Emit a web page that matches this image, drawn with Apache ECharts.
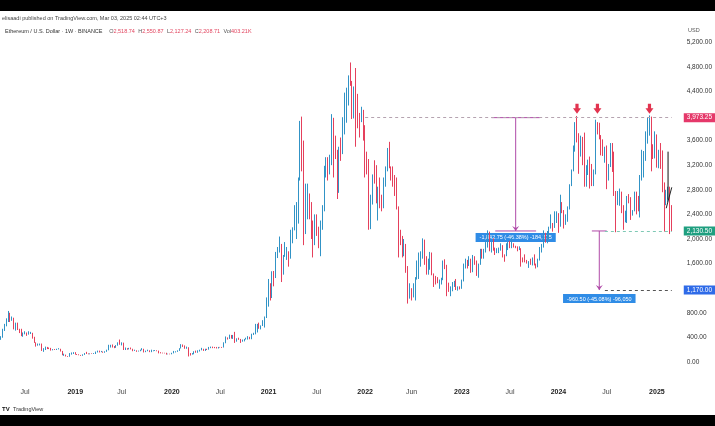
<!DOCTYPE html>
<html><head><meta charset="utf-8">
<script src="https://cdn.jsdelivr.net/npm/echarts@6/dist/echarts.min.js"></script>
<style>html,body{margin:0;padding:0;background:#fff;}#c{width:715px;height:426px;}</style>
</head><body><div id="c"></div>
<script>
// Weekly ETH candles, rows are [open, high, low, close]; first week starts 2018-04-02
const firstWeek = '2018-04-02';
const y2018 = [
[380,420,360,400],[400,540,395,530],[530,620,505,605],[605,710,580,670],[670,830,650,790],
[790,800,650,680],[680,740,670,710],[710,720,530,580],[580,640,510,615],
[615,640,520,530],[530,540,470,500],[500,540,420,455],[455,480,410,455],
[455,500,450,470],[470,480,425,450],[450,500,445,465],[465,490,455,470],[470,475,380,400],
[400,410,310,320],[320,320,250,280],[280,300,265,280],[280,300,270,285],
[285,300,180,195],[195,225,165,220],[220,250,195,245],[245,245,210,230],
[230,235,210,225],[225,230,185,195],[195,210,190,205],[205,210,195,200],[200,215,195,210],
[210,225,205,212],[212,215,170,175],[175,180,110,115],[115,135,100,115],
[115,120,90,90],[90,95,82,85],[85,145,85,130],[130,155,120,135],[135,160,130,155]];
const y2019 = [
[155,160,120,125],[125,130,115,118],[118,125,110,115],[115,115,100,105],
[105,125,100,120],[120,145,115,140],[140,165,130,135],[135,140,125,130],
[130,140,125,138],[138,140,130,135],[135,145,130,135],[135,170,130,165],
[165,185,155,180],[180,185,155,165],[165,180,160,165],[165,170,150,155],[155,175,150,170],
[170,200,165,195],[195,280,190,240],[240,280,235,270],[270,285,235,250],
[250,260,225,235],[235,275,230,270],[270,320,265,310],[310,365,280,290],
[290,320,270,290],[290,315,195,215],[215,235,195,215],[215,225,200,205],[205,230,205,225],
[225,235,205,210],[210,215,175,185],[185,200,180,185],[185,190,165,170],
[170,185,170,180],[180,200,175,195],[195,225,190,210],[210,215,155,165],[165,185,160,180],
[180,200,175,185],[185,190,160,165],[165,200,160,180],[180,190,175,185],
[185,195,180,185],[185,190,175,180],[180,185,140,150],[150,160,140,148],
[148,152,140,145],[145,150,140,142],[142,150,120,128],[128,135,125,130],[130,135,125,128]];
const y2020 = [
[128,150,125,145],[145,180,140,165],[165,175,155,170],[170,190,165,185],
[185,225,180,225],[225,290,220,270],[270,285,245,255],[255,270,215,220],
[220,250,215,235],[235,240,90,125],[125,145,105,122],[122,145,120,130],[130,175,125,170],
[170,185,150,160],[160,190,150,180],[180,200,170,195],[195,230,190,210],
[210,215,180,185],[185,215,180,210],[210,215,195,205],[205,245,200,240],
[240,250,225,245],[245,250,225,235],[235,245,225,228],[228,245,220,225],[225,245,220,240],
[240,245,235,238],[238,245,230,235],[235,320,235,310],[310,415,305,385],
[385,400,365,380],[380,445,375,430],[430,440,380,390],[390,440,375,430],[430,490,310,350],
[350,385,330,380],[380,395,360,370],[370,375,310,355],[355,365,330,355],
[355,375,335,370],[370,395,365,370],[370,420,365,405],[405,410,370,400],
[400,460,370,455],[455,475,440,460],[460,620,450,550],[550,620,480,585],[585,640,540,560],
[560,595,530,590],[590,680,585,640],[640,740,560,735],[735,1050,715,1040]];
const y2021 = [
[1040,1350,900,1250],[1250,1280,1000,1230],[1230,1475,1040,1390],[1390,1480,1230,1370],
[1370,1790,1365,1770],[1770,1870,1690,1780],[1780,2040,1780,1900],[1900,1920,1300,1420],
[1420,1740,1420,1720],[1720,1950,1710,1800],[1800,1870,1660,1800],[1800,1800,1550,1690],[1690,2150,1680,2080],
[2080,2190,1930,2140],[2140,2550,2140,2250],[2250,2600,2000,2300],[2300,3000,2250,2950],
[2950,3920,2950,3900],[3900,3990,3100,3580],[3580,3600,1900,2100],[2100,2900,2080,2390],[2390,2900,2320,2700],
[2700,2740,2320,2500],[2500,2600,2000,2250],[2250,2300,1700,1980],[1980,2400,1900,2320],
[2320,2400,2050,2140],[2140,2200,1850,1900],[1900,2300,1720,2200],[2200,2550,2150,2500],
[2500,3190,2450,3150],[3150,3330,3000,3300],[3300,3330,2950,3220],[3220,3370,3050,3220],[3220,4030,3200,3950],
[3950,3970,3000,3400],[3400,3680,3300,3330],[3330,3450,2650,2920],[2920,3500,2750,3420],
[3420,3650,3270,3410],[3410,3980,3380,3850],[3850,4380,3700,4170],[4170,4460,3890,4280],
[4280,4660,4170,4610],[4610,4870,4490,4570],[4570,4570,3950,4280],[4280,4480,3960,4300],[4300,4780,3500,4200],
[4200,4360,3800,3960],[3960,4050,3650,3950],[3950,4150,3900,4050],[4050,4100,3600,3770]];
const y2022 = [
[3770,3850,3000,3250],[3250,3420,3050,3200],[3200,3300,2150,2400],[2400,2720,2160,2600],[2600,3050,2560,3020],
[3020,3280,2900,2920],[2920,3200,2580,2580],[2580,2850,2300,2620],[2620,3000,2500,2570],
[2570,2720,2450,2560],[2560,3000,2500,2860],[2860,3180,2850,3140],[3140,3480,3100,3450],
[3450,3580,3150,3180],[3180,3180,2950,3050],[3050,3180,2850,2920],[2920,3040,2700,2830],
[2830,3000,2480,2520],[2520,2530,1700,2050],[2050,2150,1900,1970],[1970,2050,1700,1800],[1800,2000,1720,1800],
[1800,1920,1450,1450],[1450,1560,950,1130],[1130,1280,1030,1140],[1140,1200,1000,1070],
[1070,1280,1050,1170],[1170,1380,1000,1340],[1340,1650,1340,1550],[1550,1780,1350,1680],
[1680,1800,1550,1700],[1700,2010,1680,1980],[1980,1990,1580,1620],[1620,1720,1420,1550],[1550,1680,1420,1580],
[1580,1790,1500,1720],[1720,1780,1410,1440],[1440,1440,1220,1320],[1320,1400,1260,1310],
[1310,1380,1280,1300],[1300,1340,1190,1310],[1310,1370,1260,1360],[1360,1650,1330,1590],[1590,1670,1510,1570],
[1570,1580,1070,1220],[1220,1290,1140,1190],[1190,1230,1070,1200],[1200,1300,1150,1260],
[1260,1320,1220,1280],[1280,1350,1170,1180],[1180,1230,1160,1210],[1210,1230,1180,1200]];
const y2023 = [
[1200,1340,1190,1320],[1320,1600,1310,1550],[1550,1680,1520,1630],[1630,1660,1520,1570],[1570,1720,1560,1630],
[1630,1680,1450,1510],[1510,1740,1460,1710],[1710,1720,1580,1640],[1640,1650,1400,1430],
[1430,1600,1370,1590],[1590,1840,1580,1780],[1780,1840,1680,1750],[1750,1840,1680,1810],
[1810,1950,1780,1860],[1860,2140,1860,2100],[2100,2120,1800,1870],[1870,1950,1780,1870],
[1870,2010,1810,1850],[1850,1860,1740,1800],[1800,1850,1770,1820],[1820,1860,1770,1830],[1830,1930,1810,1890],
[1890,1900,1700,1740],[1740,1750,1630,1730],[1730,1930,1720,1880],[1880,1950,1820,1930],
[1930,1970,1850,1880],[1880,2020,1850,1930],[1930,1930,1860,1890],[1890,1890,1850,1860],[1860,1880,1800,1850],
[1850,1880,1820,1850],[1850,1850,1550,1670],[1670,1700,1620,1650],[1650,1750,1620,1630],
[1630,1660,1600,1620],[1620,1640,1530,1620],[1620,1680,1580,1590],[1590,1700,1570,1680],
[1680,1750,1570,1580],[1580,1600,1520,1560],[1560,1680,1540,1660],[1660,1870,1650,1780],[1780,1920,1780,1880],
[1880,2140,1860,2040],[2040,2100,1940,2010],[2010,2130,1930,2070],[2070,2200,2000,2190],
[2190,2400,2170,2230],[2230,2260,2120,2200],[2200,2450,2180,2270],[2270,2450,2260,2350]];
const y2024 = [
[2350,2420,2100,2220],[2220,2720,2200,2470],[2470,2600,2420,2450],[2450,2470,2170,2260],[2260,2400,2230,2290],
[2290,2530,2280,2500],[2500,2890,2480,2880],[2880,3130,2860,3110],[3110,3520,3100,3490],
[3490,3900,3420,3880],[3880,4000,3570,3640],[3640,3720,3060,3450],[3450,3680,3340,3650],
[3650,3660,3200,3450],[3450,3730,2850,3150],[3150,3200,2850,3150],[3150,3290,3040,3260],[3260,3340,2820,3100],
[3100,3220,2860,2930],[2930,3130,2860,3070],[3070,3940,3050,3830],[3830,3900,3700,3780],
[3780,3890,3620,3680],[3680,3690,3360,3570],[3570,3620,3350,3420],[3420,3500,3240,3430],
[3430,3520,2810,3000],[3000,3220,2950,3200],[3200,3560,3170,3470],[3470,3560,3090,3250],[3250,3420,2700,2750],
[2750,2780,2110,2610],[2610,2780,2550,2610],[2610,2820,2540,2750],[2750,2770,2420,2530],
[2530,2550,2150,2300],[2300,2460,2270,2420],[2420,2700,2260,2660],[2660,2730,2580,2600],[2600,2680,2310,2430],
[2430,2470,2380,2460],[2460,2770,2450,2730],[2730,2770,2400,2500],[2500,2700,2450,2450],
[2450,3040,2350,3020],[3020,3450,2950,3070],[3070,3430,3000,3350],[3350,3750,3270,3700],
[3700,3980,3550,3950],[3950,4010,3680,3990],[3990,3990,3100,3420],[3420,3540,3300,3360],[3360,3750,3310,3630]];
const y2025 = [
[3630,3700,3160,3280],[3280,3450,3150,3300],[3300,3560,3140,3290],[3290,3440,2760,2870],
[2870,2920,2120,2630],[2630,2800,2550,2690],[2690,2850,2600,2810],[2810,2850,2080,2520],
[2518.74,2550.87,2127.24,2208.71]];

// horizontal levels and measurement labels (drawn tools)
const resistance = 3973.25;
const support1 = 2130.50;
const support2 = 1170.00;
const measure1Text = '-1,842.75 (-46.38%) -184,275';
const measure2Text = '-960.50 (-45.08%) -96,050';
const peakDates = ['2024-03-11', '2024-05-27', '2024-12-09'];
const tickLabels = [
  ['2018-07-02','Jul'],['2019-01-07','2019'],['2019-07-01','Jul'],['2020-01-06','2020'],
  ['2020-07-06','Jul'],['2021-01-04','2021'],['2021-07-05','Jul'],['2022-01-03','2022'],
  ['2022-06-27','Jun'],['2023-01-02','2023'],['2023-07-03','Jul'],['2024-01-01','2024'],
  ['2024-07-01','Jul'],['2025-01-06','2025']];

const rows = [].concat(y2018, y2019, y2020, y2021, y2022, y2023, y2024, y2025);
const t0 = Date.parse(firstWeek + 'T00:00:00Z');
const dates = rows.map((r, i) => new Date(t0 + i * 7 * 86400000).toISOString().slice(0, 10));
const candles = rows.map(r => [r[0], r[3], r[2], r[1]]);
const tickMap = {}; tickLabels.forEach(t => tickMap[t[0]] = t[1]);
const last = dates[dates.length - 1];

const FONT = '"Liberation Sans", Arial, sans-serif';
const UP = '#3193c6', DOWN = '#e5405c';
const PURPLE = '#b04aa8', MBLUE = '#2f8ce6';
const fmt = v => Number(v).toLocaleString('en-US', {minimumFractionDigits: 2, maximumFractionDigits: 2});

const chart = echarts.init(document.getElementById('c'), null, {renderer: 'canvas'});

function hline(a, b, style, label) {
  const s = {coord: a, lineStyle: style};
  if (label) s.label = label;
  return [s, {coord: b}];
}
const axisLabelStyle = (bg, v) => ({show: true, position: 'end', distance: 12, formatter: fmt(v),
  backgroundColor: bg, color: '#fff', padding: [1, 3], fontSize: 6.5, fontFamily: FONT});

// drawing segments as plain line series
function segSeries(points, color) {
  return {type: 'line', data: points, symbol: 'none', silent: true, animation: false, z: 4,
    lineStyle: {color: color, width: 1}, clip: false};
}
function arrowHead(point, color) {
  return {type: 'scatter', data: [point], silent: true, z: 5, animation: false,
    symbol: 'path://M0,0 L5,6 L10,0 L5,2.5 Z', symbolSize: [7, 5], symbolOffset: [0, -2.5],
    itemStyle: {color: color, opacity: 1}};
}
function boxLabel(point, text, dist) {
  return {type: 'scatter', data: [point], silent: true, z: 1, animation: false, symbolSize: 0,
    itemStyle: {opacity: 1},
    label: {show: true, position: 'bottom', distance: dist, formatter: text, backgroundColor: MBLUE,
      color: '#fff', padding: [2, 4, 1, 4], fontSize: 5.5, fontFamily: FONT}};
}

chart.setOption({
  animation: false,
  backgroundColor: '#fff',
  grid: {left: 0, right: 42, top: 30, bottom: 64},
  xAxis: {
    type: 'category', data: dates, boundaryGap: true,
    axisLine: {show: false}, axisTick: {show: false}, splitLine: {show: false},
    axisLabel: {
      interval: (i, v) => tickMap[v] !== undefined,
      formatter: v => { const t = tickMap[v] || ''; return /^\d{4}$/.test(t) ? '{y|' + t + '}' : '{m|' + t + '}'; },
      margin: 27,
      rich: {
        y: {fontSize: 7, fontWeight: 'bold', color: '#222', fontFamily: FONT},
        m: {fontSize: 7, color: '#444', fontFamily: FONT}
      }
    }
  },
  yAxis: {
    type: 'value', position: 'right', min: 0, max: 5398, interval: 400,
    axisLine: {show: false}, axisTick: {show: false}, splitLine: {show: false},
    axisLabel: {
      align: 'left', margin: 14, fontSize: 6.5, color: '#333', fontFamily: FONT, showMaxLabel: false,
      formatter: v => (v === 4000 || v === 1200 || v > 5300) ? '' : fmt(v)
    }
  },
  series: [{
    type: 'candlestick', data: candles, barWidth: 1.3, z: 2,
    itemStyle: {color: UP, color0: DOWN, borderColor: UP, borderColor0: DOWN, borderWidth: 1},
    markLine: {silent: true, symbol: ['none', 'none'], animation: false, label: {show: false},
      data: [
        hline([dates[196], resistance], [last, resistance], {type: [3, 3], color: '#b5a3b0', width: 1},
              axisLabelStyle('#e5386a', resistance)),
        hline([dates[325], support1], [last, support1], {type: [3, 3], color: '#7fc9b5', width: 1},
              axisLabelStyle('#1f9f80', support1)),
        hline([dates[325], support2], [last, support2], {type: [3, 3], color: '#555', width: 1},
              axisLabelStyle('#2f6be8', support2))
      ]}
  }, {
    type: 'scatter', silent: true,
    data: peakDates.map(d => [d, resistance]),
    symbol: 'path://M3,0 L7,0 L7,5 L10,5 L5,11 L0,5 L3,5 Z',
    symbolSize: [8, 10], symbolOffset: [0, -9],
    itemStyle: {color: '#e2334f', opacity: 1}, z: 5
  },
  // measurement 1: resistance -> support1
  segSeries([[dates[264], resistance], [dates[290], resistance]], PURPLE),
  segSeries([[dates[266], support1], [dates[288], support1]], PURPLE),
  segSeries([[dates[277], resistance], [dates[277], support1]], PURPLE),
  arrowHead([dates[277], support1], PURPLE),
  boxLabel([dates[277], support1], measure1Text, 2),
  // measurement 2: support1 -> support2
  segSeries([[dates[318], support1], [dates[326], support1]], PURPLE),
  segSeries([[dates[322], support1], [dates[322], support2]], PURPLE),
  arrowHead([dates[322], support2], PURPLE),
  boxLabel([dates[322], support2], measure2Text, 4),
  // small black drawings at the end
  segSeries([[dates[359], 3420], [dates[359], 2640]], '#111'),
  segSeries([[dates[358], 2500], [last, 2840]], '#222')
  ],
  graphic: [
    {type: 'rect', shape: {x: 0, y: 0, width: 715, height: 11}, style: {fill: '#000'}},
    {type: 'rect', shape: {x: 0, y: 415, width: 715, height: 11}, style: {fill: '#000'}},
    {type: 'text', left: 2, top: 15, style: {text: 'elisaadi published on TradingView.com, Mar 03, 2025 02:44 UTC+3',
      font: '5.5px ' + FONT, fill: '#444'}},
    {type: 'text', left: 5, top: 25, style: {
      text: '{a|Ethereum / U.S. Dollar · 1W · BINANCE}  {k|O}{r|2,518.74} {k|H}{r|2,550.87} {k|L}{r|2,127.24} {k|C}{r|2,208.71} {k|Vol}{r|403.21K}',
      rich: {a: {fontSize: 5.5, fill: '#333', fontFamily: FONT}, k: {fontSize: 5.5, fill: '#555', fontFamily: FONT},
             r: {fontSize: 5.5, fill: '#e2455f', fontFamily: FONT}}}},
    {type: 'text', left: 688, top: 27, style: {text: 'USD', font: '5.5px ' + FONT, fill: '#555'}},
    {type: 'text', left: 2, top: 403, style: {text: '{b|TV} {n|TradingView}',
      rich: {b: {fontSize: 6, fontWeight: 'bold', fill: '#111', fontFamily: FONT}, n: {fontSize: 5.5, fill: '#333', fontFamily: FONT}}}}
  ]
});
</script>
</body></html>
